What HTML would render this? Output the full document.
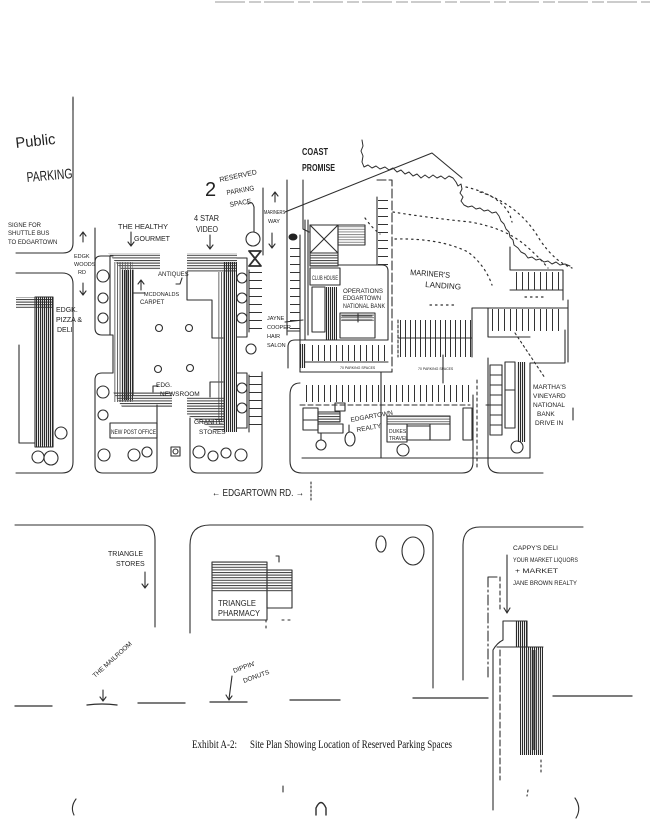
<!DOCTYPE html>
<html><head><meta charset="utf-8"><style>
html,body{margin:0;padding:0;background:#fff;}
svg{display:block}
text{font-family:"Liberation Sans",sans-serif;fill:#222;}
.s{font-family:"Liberation Serif",serif;fill:#111;}
</style></head><body>
<svg width="650" height="839" viewBox="0 0 650 839" xmlns="http://www.w3.org/2000/svg">
<defs>
<pattern id="vh" width="2" height="10" patternUnits="userSpaceOnUse"><rect width="1.1" height="10" fill="#2a2a2a"/></pattern>
<pattern id="vhl" width="2.6" height="10" patternUnits="userSpaceOnUse"><rect width="0.9" height="10" fill="#555"/></pattern>
<pattern id="hh" width="10" height="2.6" patternUnits="userSpaceOnUse"><rect width="10" height="1" fill="#3a3a3a"/></pattern>
<pattern id="sv" width="6" height="10" patternUnits="userSpaceOnUse"><rect width="1" height="10" fill="#333"/></pattern>
<pattern id="sv5" width="5" height="10" patternUnits="userSpaceOnUse"><rect width="1" height="10" fill="#333"/></pattern>
<pattern id="sh" width="10" height="8" patternUnits="userSpaceOnUse"><rect width="10" height="1" fill="#333"/></pattern>
</defs>

<!-- top faint scan line -->
<line x1="215" y1="2" x2="650" y2="2" stroke="#999" stroke-width="1" stroke-dasharray="30 4 12 3"/>

<g fill="none" stroke="#2e2e2e" stroke-width="1.1" stroke-linecap="round" stroke-linejoin="round">
<!-- Public parking block -->
<path d="M73,98 L73,243 Q73,253 63,253 L16,253"/>
<!-- left block -->
<path d="M16,273 L62,273 Q73,273 73,284 L73,462 Q73,473 62,473 L16,473"/>
<path d="M19,345 L19,443 L35,443"/>
<rect x="35" y="297" width="18" height="150"/>
<circle cx="38" cy="457" r="6"/><circle cx="51" cy="458" r="7"/><circle cx="61" cy="433" r="6"/>
<!-- woods rd -->
<path d="M95,228 L95,300"/>
<path d="M83,242 L83,233 M80,236 L83,232 L86,236"/>
<path d="M83,283 L83,294 M80,291 L83,295 L86,291"/>

<!-- center block outlines -->
<path d="M113,256 L101,256 Q95,256 95,262 L95,328 Q95,335 102,335 L113,335 L113,373 L102,373 Q95,373 95,380 L95,465 Q95,473 103,473 L150,473 Q157,473 157,465 L157,405"/>
<path d="M190,418 L190,465 Q190,473 198,473 L254,473 Q262,473 262,465 L262,372"/>
<path d="M237,258 L247,258 L247,337 L237,337"/>
<path d="M237,373 L247,373 L247,428 L237,428"/>
<path d="M249,270 L249,332 M249,375 L249,432"/>
<path d="M187,272 L187,300 L212,300 L212,338 L223,338 M223,382 L210,382 L210,397"/>
<path d="M133,270 L133,395 M110,256 L110,335"/>
<rect x="110" y="423" width="47" height="15"/>
<rect x="171" y="447" width="9" height="9"/>
<circle cx="175.5" cy="451.5" r="2.5"/>
<!-- trees center -->
<circle cx="103" cy="276" r="6"/><circle cx="103" cy="298" r="5"/><circle cx="103" cy="318" r="5"/>
<circle cx="103" cy="392" r="6"/><circle cx="103" cy="415" r="5"/>
<circle cx="104" cy="455" r="6"/><circle cx="134" cy="455" r="6"/><circle cx="147" cy="452" r="5"/>
<circle cx="199" cy="452" r="6"/><circle cx="213" cy="456" r="5"/><circle cx="226" cy="453" r="5"/><circle cx="241" cy="455" r="6"/>
<circle cx="242" cy="278" r="5"/><circle cx="242" cy="298" r="5"/><circle cx="242" cy="318" r="5"/>
<circle cx="242" cy="388" r="5"/><circle cx="242" cy="408" r="5"/>
<circle cx="251" cy="349" r="5"/>
<circle cx="159" cy="328" r="3.5"/><circle cx="189" cy="328" r="3.5"/><circle cx="158" cy="369" r="3.5"/><circle cx="190" cy="368" r="3.5"/>
<!-- arrows center labels -->
<path d="M131,232 L131,245 M128,242 L131,246 L134,242"/>
<path d="M210,235 L210,248 M207,245 L210,249 L213,245"/>
<path d="M141,290 L141,281 M138,284 L141,280 L144,284"/>
<path d="M133,293 L145,293"/>
<path d="M158,386 L153,386 L153,392"/>
<path d="M182,278 L180,284 L176,284"/>

<!-- reserved parking -->
<path d="M254,207 L254,232"/>
<path d="M248,204 Q252,200 254,207"/>
<circle cx="253" cy="239" r="7"/>
<path d="M249,251 L261,251 L249,266 L261,266 Z" stroke-width="1.8"/>
<path d="M263,188 L263,255"/>
<path d="M275,202 L275,193 M272,196 L275,192 L278,196"/>
<path d="M272,233 L272,247 M269,244 L272,248 L275,244"/>

<!-- diagonal & coast promise -->
<path d="M285,212 L432,153 L462,178"/>
<path d="M287,180 L287,335"/>
<path d="M303,180 L303,229 L309,232"/>
<path d="M300,235 L300,372 M305,220 L305,340 M308,220 L308,335"/>
<path d="M305,340 L295,340 Q288,340 288,347 L288,368"/>
<path d="M285,322 L303,320 M288,331 L300,331"/>
<!-- X building etc -->
<rect x="310" y="225" width="28" height="28"/>
<path d="M310,225 L338,253 M338,225 L310,253"/>
<rect x="338" y="225" width="27" height="20"/>
<rect x="310" y="253" width="28" height="13"/>
<rect x="310" y="268" width="30" height="17"/>
<rect x="312" y="287" width="13" height="45"/>
<path d="M338,265 L382,265 Q388,265 388,271 L388,340 L305,340"/>
<rect x="340" y="313" width="35" height="25"/>
<path d="M342,316 L372,316 M342,320 L372,320 M358,314 L358,322"/>
<path d="M305,362 L388,362 M300,372 L392,372"/>
<!-- mariner's area -->
<path d="M377,180 L392,180 L392,372" stroke-dasharray="9 3"/>
<path d="M377,197 L377,265"/>
<path d="M398,320 L398,357" stroke-dasharray="3 2"/>
<path d="M398,338 L472,338"/>
<path d="M472,308 L472,357 M472,308 L568,308 M568,300 L568,362" />
<path d="M510,247 L510,270 L563,270 L563,300 M510,290 L563,290"/>
<path d="M488,308 L488,337 L530,337"/>
<path d="M515,333 L545,378" stroke-dasharray="2 3"/>
<!-- lower right complex -->
<path d="M300,383 Q290,383 290,395 L290,461 Q290,473 302,473 L462,473 Q473,473 473,462 L473,395"/>
<path d="M302,458 L473,458 M381,372 L381,458 M443,355 L443,383"/>
<path d="M300,405 L470,405" stroke-dasharray="5 3"/>
<rect x="303" y="408" width="15" height="12"/><rect x="303" y="420" width="15" height="10"/>
<rect x="318" y="412" width="22" height="10"/><rect x="318" y="424" width="25" height="9"/>
<rect x="335" y="403" width="10" height="8"/>
<path d="M321,433 L321,440 M349,425 L349,432"/>
<circle cx="321" cy="445" r="5"/><ellipse cx="350" cy="439" rx="5" ry="7"/>
<rect x="387" y="416" width="63" height="8"/>
<rect x="387" y="424" width="20" height="18"/>
<rect x="407" y="426" width="23" height="14"/>
<rect x="430" y="424" width="20" height="16"/>
<circle cx="403" cy="450" r="6"/>
<rect x="463" y="408" width="9" height="32"/>
<path d="M477,380 L477,470 M486,405 L492,405" stroke-dasharray="3 3"/>
<!-- bank drive in -->
<path d="M530,363 L565,363 L565,330 M530,363 L530,458 L473,458"/>
<path d="M488,358 L488,462 Q488,473 500,473 L543,473"/>
<rect x="490" y="365" width="12" height="70"/>
<path d="M490,375 L502,375 M490,385 L502,385 M490,395 L502,395 M490,405 L502,405 M490,415 L502,415 M490,425 L502,425"/>
<rect x="505" y="362" width="10" height="28"/><rect x="505" y="390" width="10" height="38"/>
<circle cx="517" cy="447" r="6"/>
<path d="M573,408 L573,420"/>
<!-- treeline -->
<polyline stroke-width="1" points="362,140 363,146 361,151 363,156 362,162 364,167 368,165 372,168 376,166 380,169 385,167 389,170 393,168 397,172 401,170 405,174 409,172 413,176 417,174 421,178 425,175 429,178 433,175 437,178 441,176 445,179 449,176 453,178 456,182 458,186 461,184 462,189 460,193 463,197 461,201 464,205 468,207 472,206 476,209 480,208 484,211 488,210 492,213 496,212 499,216 501,221 504,224 506,229 509,232 510,237 513,240 514,245 518,248 521,252 525,254 528,258 532,257 536,260 540,259 544,262 548,261 552,264 556,262 560,265 565,264 570,266"/>
<g stroke-dasharray="1.5 4" stroke-width="1.2">
<path d="M393,212 Q430,218 470,222 Q505,228 525,245 Q540,258 548,268"/>
<path d="M395,239 Q440,238 468,252 Q485,265 492,285"/>
<path d="M466,187 Q500,195 510,215 L512,222"/>
<path d="M480,192 Q520,205 540,240 Q555,262 572,268"/>
<path d="M365,218 Q372,228 380,234"/>
<path d="M430,305 L455,305"/>
<path d="M525,297 L545,297"/>
</g>
<!-- edgartown rd dotted -->
<path d="M311,482 L311,500" stroke-dasharray="2 2"/>

<!-- bottom section -->
<path d="M15,525 L143,525 Q155,525 155,540 L155,627"/>
<path d="M190,633 L190,545 Q190,525 210,525 L423,525 Q433,525 433,535 L433,688"/>
<path d="M463,680 L463,545 Q463,527 480,527 L583,527"/>
<path d="M145,572 L145,587 M142,584 L145,588 L148,584"/>
<rect x="212" y="562" width="55" height="58"/>
<rect x="267" y="570" width="25" height="38"/>
<path d="M276,556 L279,556 L279,562"/>
<path d="M266,620 L266,632 M282,620 L290,620" stroke-dasharray="2 4"/>
<ellipse cx="381" cy="544" rx="5" ry="8"/>
<ellipse cx="413" cy="551" rx="11" ry="14"/>
<path d="M507,555 L507,612 M504,608 L507,613 L510,608"/>
<path d="M488,577 L497,577 M488,577 L488,680" stroke-dasharray="10 3 2 3"/>
<path d="M500,577 L500,612" stroke-dasharray="4 3"/>
<path d="M503,621 L527,621 L527,647 M503,621 L503,640 Q497,643 493,650 L493,810"/>
<path d="M497,647 L543,647"/>
<path d="M500,650 L500,780" stroke-dasharray="6 3"/>
<path d="M541,760 L541,775 M528,790 L527,796" stroke-dasharray="2 3"/>
<!-- ground lines -->
<path d="M15,706 L52,706 M87,705 Q102,703 117,705 M138,703 L185,703 M210,702 L247,702 M290,700 L340,700 M413,698 L488,698 M553,696 L632,696" stroke-width="1.3"/>
<path d="M103,690 L103,700 M100,697 L103,701 L106,697"/>
<path d="M232,676 L229,699 M226,695 L229,700 L232,696"/>
<!-- bottom marks -->
<path d="M76,799 Q70,807 74,815"/>
<path d="M316,815 L316,808 Q321,797 326,808 L326,815" stroke-width="1.4"/>
<path d="M575,798 Q582,808 576,818"/>
<path d="M283,786 L283,792"/>
<path d="M73,97 L73,110"/>
</g>

<!-- hatched fills -->
<g stroke="none">
<rect x="16" y="297" width="36" height="11" fill="url(#hh)"/>
<rect x="35" y="297" width="18" height="150" fill="url(#vh)"/>
<rect x="40" y="305" width="10" height="140" fill="url(#vh)"/>
<polygon points="108,253 160,253 160,270 122,270" fill="url(#hh)"/>
<rect x="113" y="262" width="20" height="140" fill="url(#vhl)"/>
<rect x="121" y="270" width="12" height="130" fill="url(#vh)"/>
<polygon points="113,392 172,392 172,407 122,407" fill="url(#hh)"/>
<polygon points="187,253 237,253 237,272 187,272" fill="url(#hh)"/>
<rect x="223" y="262" width="14" height="170" fill="url(#vh)"/>
<rect x="218" y="272" width="6" height="150" fill="url(#vhl)"/>
<polygon points="187,397 225,397 225,430 215,430 187,415" fill="url(#hh)"/>
<rect x="290" y="245" width="10" height="90" fill="url(#sh)"/>
<rect x="249" y="272" width="13" height="60" fill="url(#sh)"/>
<rect x="249" y="376" width="13" height="56" fill="url(#sh)"/>
<rect x="249" y="282" width="13" height="50" fill="url(#sh)"/>
<ellipse cx="293" cy="237" rx="4.5" ry="3.5" fill="#222"/>
<rect x="300" y="344" width="6" height="24" fill="url(#vh)"/>
<rect x="310" y="253" width="28" height="13" fill="url(#hh)"/>
<rect x="338" y="226" width="27" height="18" fill="url(#hh)" opacity="0.6"/>
<rect x="325" y="287" width="12" height="53" fill="url(#vh)"/>
<rect x="341" y="314" width="33" height="8" fill="url(#hh)" opacity="0.7"/>
<rect x="307" y="345" width="80" height="16" fill="url(#sv)"/>
<rect x="378" y="197" width="10" height="68" fill="url(#sh)"/>
<rect x="399" y="320" width="73" height="37" fill="url(#sv5)"/>
<rect x="512" y="272" width="50" height="18" fill="url(#sv)"/>
<rect x="490" y="309" width="74" height="22" fill="url(#sv)"/>
<rect x="302" y="385" width="168" height="17" fill="url(#sv)"/>
<rect x="318" y="412" width="22" height="10" fill="url(#hh)"/>
<rect x="387" y="416" width="63" height="8" fill="url(#hh)" opacity="0.7"/>
<rect x="517" y="362" width="9" height="80" fill="url(#vh)"/>
<rect x="212" y="562" width="55" height="30" fill="url(#hh)"/>
<rect x="267" y="570" width="25" height="22" fill="url(#hh)"/>
<rect x="515" y="621" width="12" height="26" fill="url(#vh)"/>
<rect x="520" y="647" width="23" height="108" fill="url(#vh)"/>
<rect x="527" y="650" width="14" height="100" fill="url(#vhl)"/>
</g>

<!-- labels -->
<text x="16" y="148" font-size="15" textLength="40" lengthAdjust="spacingAndGlyphs" transform="rotate(-6 16 148)">Public</text>
<text x="27" y="182" font-size="14" textLength="46" lengthAdjust="spacingAndGlyphs" transform="rotate(-5 27 182)">PARKING</text>
<text x="8" y="227" font-size="6">SIGNE FOR</text>
<text x="8" y="235" font-size="6">SHUTTLE BUS</text>
<text x="8" y="244" font-size="6">TO EDGARTOWN</text>
<text x="74" y="258" font-size="5.5">EDGK</text>
<text x="74" y="266" font-size="5.5">WOODS</text>
<text x="78" y="274" font-size="5.5">RD</text>
<text x="56" y="312" font-size="7">EDGK.</text>
<text x="56" y="322" font-size="7">PIZZA &amp;</text>
<text x="57" y="332" font-size="7">DELI</text>
<text x="118" y="229" font-size="7.5" textLength="50" lengthAdjust="spacingAndGlyphs">THE HEALTHY</text>
<text x="134" y="241" font-size="7.5" textLength="36" lengthAdjust="spacingAndGlyphs">GOURMET</text>
<text x="194" y="221" font-size="8" textLength="25" lengthAdjust="spacingAndGlyphs">4 STAR</text>
<text x="196" y="232" font-size="8" textLength="22" lengthAdjust="spacingAndGlyphs">VIDEO</text>
<text x="205" y="196" font-size="20">2</text>
<text x="220" y="182" font-size="7" textLength="38" lengthAdjust="spacingAndGlyphs" transform="rotate(-12 220 182)">RESERVED</text>
<text x="227" y="195" font-size="7" textLength="28" lengthAdjust="spacingAndGlyphs" transform="rotate(-10 227 195)">PARKING</text>
<text x="230" y="207" font-size="7" textLength="22" lengthAdjust="spacingAndGlyphs" transform="rotate(-10 230 207)">SPACE</text>
<text x="264" y="214" font-size="5.5" textLength="21" lengthAdjust="spacingAndGlyphs">MARINERS</text>
<text x="268" y="223" font-size="5.5">WAY</text>
<text x="302" y="155" font-size="10" font-weight="bold" textLength="26" lengthAdjust="spacingAndGlyphs">COAST</text>
<text x="302" y="171" font-size="10" font-weight="bold" textLength="33" lengthAdjust="spacingAndGlyphs">PROMISE</text>
<text x="158" y="276" font-size="6">ANTIQUES</text>
<text x="144" y="296" font-size="5.5">MCDONALDS</text>
<text x="140" y="304" font-size="6">CARPET</text>
<text x="156" y="387" font-size="6.5">EDG.</text>
<text x="160" y="396" font-size="6.5">NEWSROOM</text>
<text x="111" y="434" font-size="6" textLength="45" lengthAdjust="spacingAndGlyphs">NEW POST OFFICE</text>
<text x="194" y="424" font-size="6.5">GRANITE</text>
<text x="199" y="434" font-size="6.5">STORES</text>
<text x="267" y="320" font-size="5.5">JAYNE</text>
<text x="267" y="329" font-size="5.5">COOPER</text>
<text x="267" y="338" font-size="5.5">HAIR</text>
<text x="267" y="347" font-size="5.5">SALON</text>
<text x="312" y="280" font-size="6" textLength="26" lengthAdjust="spacingAndGlyphs">CLUB HOUSE</text>
<text x="343" y="293" font-size="6.5" textLength="40" lengthAdjust="spacingAndGlyphs">OPERATIONS</text>
<text x="343" y="300" font-size="6.5" textLength="38" lengthAdjust="spacingAndGlyphs">EDGARTOWN</text>
<text x="343" y="308" font-size="6.5" textLength="42" lengthAdjust="spacingAndGlyphs">NATIONAL BANK</text>
<text x="410" y="275" font-size="8" textLength="40" lengthAdjust="spacingAndGlyphs" transform="rotate(4 410 275)">MARINER'S</text>
<text x="425" y="287" font-size="8" textLength="36" lengthAdjust="spacingAndGlyphs" transform="rotate(4 425 287)">LANDING</text>
<text x="340" y="369" font-size="3.5" fill="#555">70 PARKING SPACES</text>
<text x="418" y="370" font-size="3.5" fill="#555">70 PARKING SPACES</text>
<text x="351" y="422" font-size="6.5" transform="rotate(-10 351 422)">EDGARTOWN</text>
<text x="357" y="432" font-size="6.5" transform="rotate(-10 357 432)">REALTY</text>
<text x="389" y="433" font-size="5">DUKES</text>
<text x="389" y="440" font-size="5">TRAVEL</text>
<text x="533" y="389" font-size="6.5">MARTHA'S</text>
<text x="533" y="398" font-size="6.5">VINEYARD</text>
<text x="533" y="407" font-size="6.5">NATIONAL</text>
<text x="537" y="416" font-size="6.5">BANK</text>
<text x="535" y="425" font-size="6.5">DRIVE IN</text>
<text x="212" y="496" font-size="10" textLength="92" lengthAdjust="spacingAndGlyphs">← EDGARTOWN RD. →</text>
<text x="108" y="556" font-size="7">TRIANGLE</text>
<text x="116" y="566" font-size="7">STORES</text>
<text x="218" y="606" font-size="8" textLength="38" lengthAdjust="spacingAndGlyphs">TRIANGLE</text>
<text x="218" y="616" font-size="8" textLength="42" lengthAdjust="spacingAndGlyphs">PHARMACY</text>
<text x="95" y="678" font-size="6.5" transform="rotate(-42 95 678)">THE MAILROOM</text>
<text x="234" y="673" font-size="6.5" transform="rotate(-20 234 673)">DIPPIN'</text>
<text x="244" y="683" font-size="6.5" transform="rotate(-20 244 683)">DONUTS</text>
<text x="513" y="550" font-size="6.5" textLength="45" lengthAdjust="spacingAndGlyphs">CAPPY'S DELI</text>
<text x="513" y="562" font-size="6.5" textLength="65" lengthAdjust="spacingAndGlyphs">YOUR MARKET LIQUORS</text>
<text x="515" y="573" font-size="6.5" textLength="43" lengthAdjust="spacingAndGlyphs">+ MARKET</text>
<text x="513" y="585" font-size="6.5" textLength="64" lengthAdjust="spacingAndGlyphs">JANE BROWN REALTY</text>
<text class="s" x="192" y="748" font-size="12" textLength="45" lengthAdjust="spacingAndGlyphs">Exhibit A-2:</text>
<text class="s" x="250" y="748" font-size="12" textLength="202" lengthAdjust="spacingAndGlyphs">Site Plan Showing Location of Reserved Parking Spaces</text>
</svg>
</body></html>
